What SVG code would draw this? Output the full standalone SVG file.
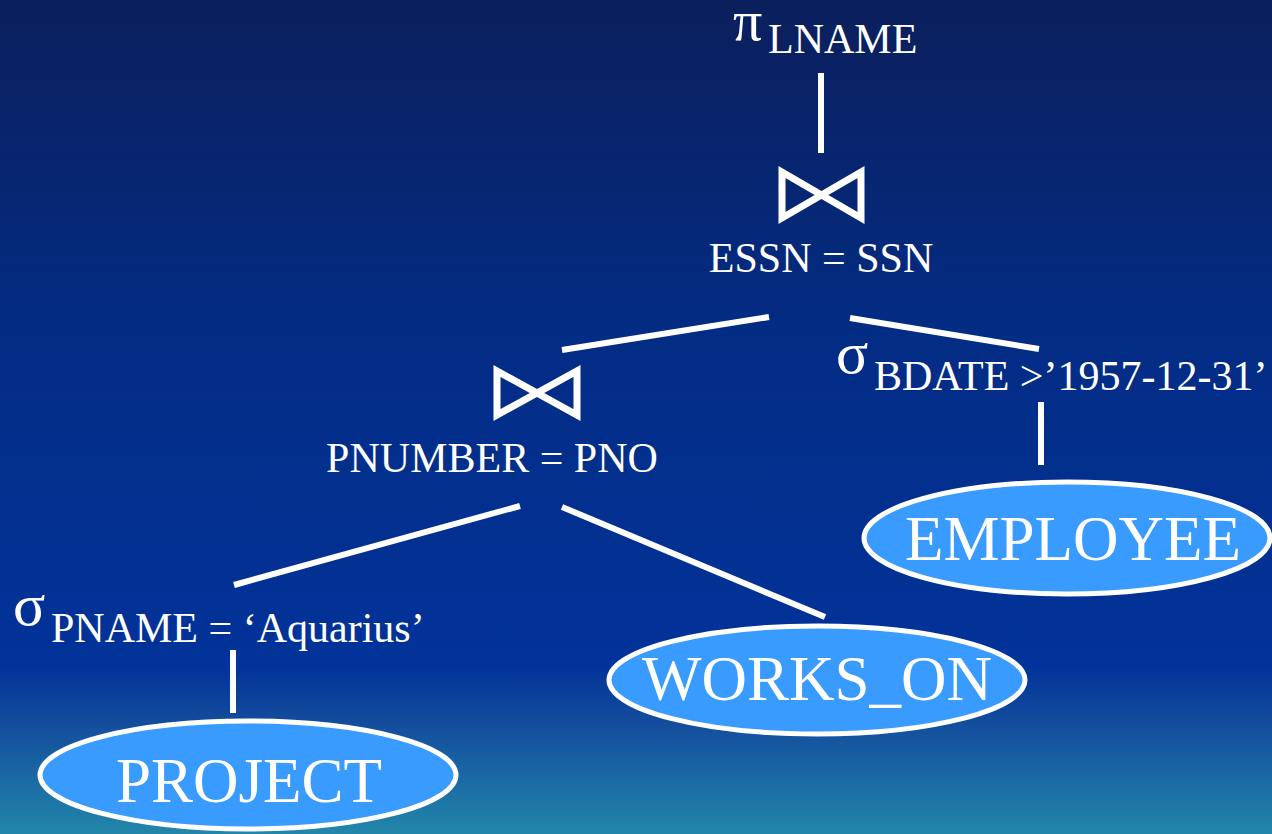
<svg xmlns="http://www.w3.org/2000/svg" width="1272" height="834" viewBox="0 0 1272 834">
  <defs>
    <linearGradient id="bg" x1="0" y1="0" x2="0" y2="1">
      <stop offset="0" stop-color="#0b1f5c"/>
      <stop offset="0.4" stop-color="#032c84"/>
      <stop offset="0.8" stop-color="#02339a"/>
      <stop offset="0.86" stop-color="#124a9c"/>
      <stop offset="1" stop-color="#2286aa"/>
    </linearGradient>
    <style>
      text { fill: #ffffff; }
      .edge { stroke: #ffffff; stroke-width: 6; fill: none; }
      .bowtie { stroke: #ffffff; stroke-width: 7; fill: none; stroke-linejoin: miter; }
      .table { fill: #3a9bff; stroke: #ffffff; stroke-width: 5; }
    </style>
  </defs>

  <rect x="0" y="0" width="1272" height="834" fill="url(#bg)"/>

  <!-- connectors -->
  <g id="connectors">
    <line class="edge" x1="821" y1="73" x2="821" y2="153"/>
    <line class="edge" x1="562" y1="350" x2="769" y2="317"/>
    <line class="edge" x1="850" y1="318" x2="1039" y2="349"/>
    <line class="edge" x1="1041" y1="402" x2="1041" y2="465"/>
    <line class="edge" x1="520" y1="506" x2="234" y2="585"/>
    <line class="edge" x1="562" y1="507" x2="825" y2="617"/>
    <line class="edge" x1="233" y1="650" x2="233" y2="713"/>
  </g>

  <g font-family="'Liberation Serif', 'Times New Roman', serif" font-size="42">
    <!-- projection on LNAME -->
    <g id="project-lname">
      <text x="733" y="40" font-size="58">π</text>
      <text x="768" y="53">LNAME</text>
    </g>

    <!-- join ESSN = SSN -->
    <g id="join-essn">
      <path class="bowtie" d="M782,172 L782,218 L861,172 L861,218 Z"/>
      <text x="821" y="272" text-anchor="middle">ESSN = SSN</text>
    </g>

    <!-- join PNUMBER = PNO -->
    <g id="join-pnumber">
      <path class="bowtie" d="M497,371 L497,415 L577,371 L577,415 Z"/>
      <text x="492" y="472" text-anchor="middle">PNUMBER = PNO</text>
    </g>

    <!-- selection on BDATE -->
    <g id="select-bdate">
      <text x="836" y="373" font-size="60">σ</text>
      <text x="874" y="390">BDATE &gt;’1957-12-31’</text>
    </g>

    <!-- selection on PNAME -->
    <g id="select-pname">
      <text x="13" y="625" font-size="60">σ</text>
      <text x="51" y="642">PNAME = ‘Aquarius’</text>
    </g>

    <!-- base relations -->
    <g id="employee">
      <ellipse class="table" cx="1067" cy="538" rx="203" ry="56"/>
      <text x="1073" y="560" font-size="63" text-anchor="middle">EMPLOYEE</text>
    </g>

    <g id="works-on">
      <ellipse class="table" cx="817" cy="680" rx="208" ry="54"/>
      <text x="817" y="700" font-size="63" text-anchor="middle">WORKS_ON</text>
    </g>

    <g id="project">
      <ellipse class="table" cx="248" cy="775" rx="208" ry="54"/>
      <text x="249" y="802" font-size="63" text-anchor="middle">PROJECT</text>
    </g>
  </g>
</svg>
